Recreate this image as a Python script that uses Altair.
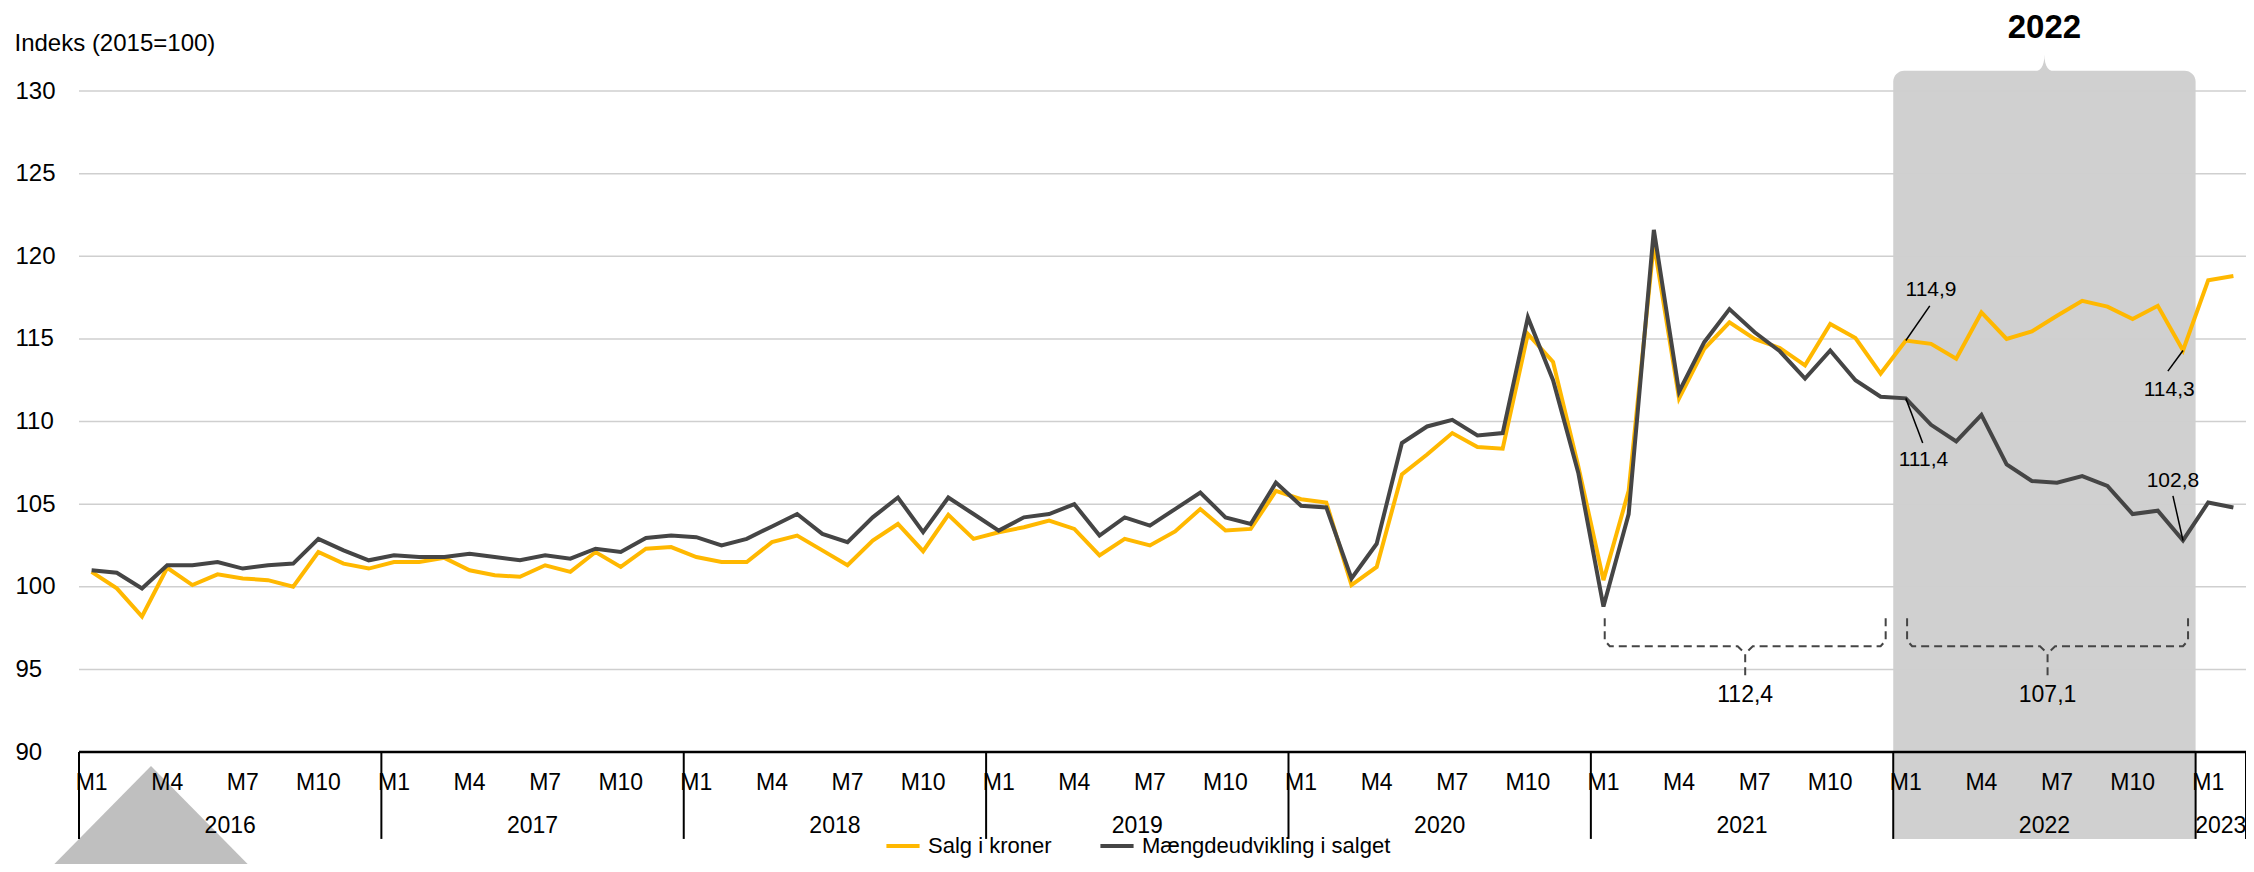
import altair as alt
import pandas as pd

# ---------------- data ----------------
years = [2016, 2017, 2018, 2019, 2020, 2021, 2022, 2023]
months_in_year = [12, 12, 12, 12, 12, 12, 12, 2]
series_names = ["Salg i kroner", "Mængdeudvikling i salget"]

salg_i_kroner = [
    100.9, 99.9, 98.2, 101.15, 100.1, 100.75, 100.5, 100.4, 100.0, 102.1, 101.4, 101.1,
    101.5, 101.5, 101.75, 101.0, 100.7, 100.6, 101.3, 100.9, 102.1, 101.2, 102.3, 102.4,
    101.8, 101.5, 101.5, 102.7, 103.1, 102.2, 101.3, 102.8, 103.8, 102.15, 104.35, 102.9,
    103.3, 103.6, 104.0, 103.5, 101.9, 102.9, 102.5, 103.35, 104.7, 103.4, 103.5, 105.8,
    105.3, 105.1, 100.1, 101.2, 106.8, 108.0, 109.3, 108.45, 108.35, 115.3, 113.6, 107.3,
    100.4, 105.8, 120.8, 111.4, 114.4, 116.0, 115.0, 114.45, 113.4, 115.9, 115.05, 112.9,
    114.9, 114.7, 113.8, 116.6, 115.0, 115.45, 116.4, 117.3, 116.95, 116.2, 117.0, 114.3,
    118.55, 118.8,
]
maengdeudvikling = [
    101.0, 100.85, 99.9, 101.3, 101.3, 101.5, 101.1, 101.3, 101.4, 102.9, 102.2, 101.6,
    101.9, 101.8, 101.8, 102.0, 101.8, 101.6, 101.9, 101.7, 102.3, 102.1, 102.95, 103.1,
    103.0, 102.5, 102.9, 103.65, 104.4, 103.2, 102.7, 104.2, 105.4, 103.3, 105.4, 104.4,
    103.4, 104.2, 104.4, 105.0, 103.1, 104.2, 103.7, 104.7, 105.7, 104.2, 103.8, 106.3,
    104.9, 104.8, 100.5, 102.6, 108.7, 109.7, 110.1, 109.15, 109.3, 116.3, 112.5, 106.9,
    98.8, 104.4, 121.6, 111.8, 114.8, 116.8, 115.4, 114.25, 112.6, 114.3, 112.5, 111.5,
    111.4, 109.8, 108.8, 110.4, 107.4, 106.4, 106.3, 106.7, 106.1, 104.4, 104.6, 102.8,
    105.1, 104.8,
]
y_ticks = [90, 95, 100, 105, 110, 115, 120, 125, 130]
month_tick_numbers = [1, 4, 7, 10]
y_title = "Indeks (2015=100)"
highlight_year = 2022
bracket_years = [2021, 2022]
annotated = [(0, 72), (1, 72), (0, 83), (1, 83)]  # (series, month index)

# ---------------- styles / layout ----------------
YELLOW = "#FFB800"
DARK = "#454545"
FONT = "Liberation Sans"
W, H = 2167, 661
N = len(salg_i_kroner)
XS = alt.Scale(domain=[-0.5, N - 0.5], nice=False, zero=False)
YS = alt.Scale(domain=[90, 130], nice=False, zero=False)
Y_AX = alt.Axis(values=y_ticks, grid=False, domain=False, ticks=False,
                labelAlign="left", labelPadding=64, labelFontSize=24,
                labelColor="#000", labelBaseline="middle",
                title=y_title, titleAngle=0, titleX=-65, titleY=-41,
                titleAlign="left", titleBaseline="alphabetic",
                titleFontWeight="normal", titleFontSize=24, titleColor="#000")


def X(f):
    return alt.X(f, type="quantitative", scale=XS, axis=None)


def Y(f):
    return alt.Y(f, type="quantitative", scale=YS, axis=Y_AX)


# month index / labels
idx, month_of, year_of = [], [], []
k = 0
for yr, n in zip(years, months_in_year):
    for m in range(1, n + 1):
        idx.append(k); month_of.append(m); year_of.append(yr); k += 1

df = pd.DataFrame({
    "i": idx * 2,
    "v": salg_i_kroner + maengdeudvikling,
    "serie": [series_names[0]] * N + [series_names[1]] * N,
})

lines = alt.Chart(df).mark_line(strokeWidth=4).encode(
    x=X("i"), y=Y("v"),
    color=alt.Color("serie:N", scale=alt.Scale(domain=series_names, range=[YELLOW, DARK]),
                    legend=alt.Legend(orient="none", legendX=805, legendY=736,
                                      direction="horizontal", title=None,
                                      labelFontSize=22, labelColor="#000", labelLimit=0,
                                      symbolType="stroke", symbolStrokeWidth=4,
                                      symbolSize=1100, columnPadding=40, labelOffset=6)),
    detail="serie:N",
)

# gridlines
grid = alt.Chart(pd.DataFrame({"v": y_ticks[1:]})).mark_rule(color="#cfcfcf", strokeWidth=1.5).encode(
    y=Y("v"), x=alt.value(0), x2=alt.value(W))

# highlighted year box
start_hl = idx[year_of.index(highlight_year)]
BOX_TOP, AX_BOTTOM = 131.23, 84.74
box = alt.Chart(pd.DataFrame({"x": [start_hl - 0.5], "x2": [start_hl + 11.5],
                              "y": [BOX_TOP], "y2": [AX_BOTTOM]})).mark_rect(
    color="#d0d0d0", cornerRadiusTopLeft=11, cornerRadiusTopRight=11).encode(
    x=X("x"), x2="x2", y=Y("y"), y2="y2")
notch = alt.Chart(pd.DataFrame({"x": [start_hl + 5.5], "y": [131.9]})).mark_point(
    shape="M-1,1 C-0.35,1 0,0.6 0,-0.4 C0,0.6 0.35,1 1,1 Z", filled=True,
    color="#d0d0d0", opacity=1, size=625, strokeWidth=0).encode(x=X("x"), y=Y("y"))
hl_label = alt.Chart(pd.DataFrame({"x": [start_hl + 5.5], "y": [133.2], "t": [str(highlight_year)]})).mark_text(
    fontSize=33, fontWeight="bold", color="#000", baseline="alphabetic").encode(
    x=X("x"), y=Y("y"), text="t:N")

# decorative triangle
tri = alt.Chart(pd.DataFrame({"a": [0]})).mark_point(
    shape="M0,-0.507 L1,0.507 L-1,0.507 Z", filled=True, color="#bfbfbf",
    opacity=1, size=43681, strokeWidth=0).encode(x=alt.value(72), y=alt.value(728))

# point annotations
series_vals = [salg_i_kroner, maengdeudvikling]
lab_pos = [(73.0, 117.95), (72.7, 107.66), (82.45, 111.9), (82.6, 106.4)]
end_pos = [(72.95, 117.0), (72.67, 108.7), (82.4, 113.05), (82.6, 105.5)]
ann = pd.DataFrame({
    "i": [a[1] for a in annotated],
    "v": [series_vals[s][m] for s, m in annotated],
    "li": [p[0] for p in lab_pos], "lv": [p[1] for p in lab_pos],
    "ei": [p[0] for p in end_pos], "ev": [p[1] for p in end_pos],
})
ann["t"] = ann["v"].map(lambda v: f"{v:.1f}".replace(".", ","))
ann_rule = alt.Chart(ann).mark_rule(color="#000", strokeWidth=1.5).encode(
    x=X("i"), y=Y("v"), x2="ei", y2="ev")
ann_text = alt.Chart(ann).mark_text(fontSize=21, color="#000", baseline="middle").encode(
    x=X("li"), y=Y("lv"), text="t:N")

# brackets (annual averages of Mængdeudvikling)
TOP, HL, BOT, TXT = 98.1, 96.4, 94.6, 93.45
rows, btxt = [], []
for yr in bracket_years:
    s = idx[year_of.index(yr)]
    L, R = s + 0.05, s + 11.2
    C = (L + R) / 2
    left = [(L, TOP), (L, HL + 0.35), (L + 0.2, HL), (C - 0.3, HL), (C, HL - 0.45), (C, BOT)]
    right = [(R, TOP), (R, HL + 0.35), (R - 0.2, HL), (C + 0.3, HL), (C, HL - 0.45)]
    for part, pts in (("l", left), ("r", right)):
        for o, (px, py) in enumerate(pts):
            rows.append({"id": f"{yr}{part}", "o": o, "x": px, "y": py})
    vals = [maengdeudvikling[j] for j in idx if year_of[j] == yr]
    btxt.append({"x": C, "y": TXT, "t": f"{sum(vals)/len(vals):.1f}".replace(".", ",")})
brackets = alt.Chart(pd.DataFrame(rows)).mark_line(color=DARK, strokeWidth=2, strokeDash=[8, 5]).encode(
    x=X("x"), y=Y("y"), detail="id:N", order="o:Q")
bracket_text = alt.Chart(pd.DataFrame(btxt)).mark_text(fontSize=23, color="#000", baseline="middle").encode(
    x=X("x"), y=Y("y"), text="t:N")

# x axis drawn manually (two levels)
baseline = alt.Chart(pd.DataFrame({"x": [-0.5], "x2": [N - 0.5], "y": [90]})).mark_rule(
    color="#000", strokeWidth=2.5).encode(x=X("x"), x2="x2", y=Y("y"))
bounds = [idx[year_of.index(yr)] - 0.5 for yr in years] + [N - 0.5]
seps = alt.Chart(pd.DataFrame({"x": bounds, "y": [90] * len(bounds), "y2": [AX_BOTTOM] * len(bounds)})).mark_rule(
    color="#000", strokeWidth=2).encode(x=X("x"), y=Y("y"), y2="y2")
mt = pd.DataFrame({"x": [j for j in idx if month_of[j] in month_tick_numbers],
                   "t": [f"M{month_of[j]}" for j in idx if month_of[j] in month_tick_numbers]})
mt["y"] = 88.12
month_text = alt.Chart(mt).mark_text(fontSize=23, color="#000", baseline="middle").encode(
    x=X("x"), y=Y("y"), text="t:N")
yt = pd.DataFrame({"x": [(bounds[q] + bounds[q + 1]) / 2 for q in range(len(years))],
                   "t": [str(yr) for yr in years]})
yt["y"] = 85.52
year_text = alt.Chart(yt).mark_text(fontSize=23, color="#000", baseline="middle").encode(
    x=X("x"), y=Y("y"), text="t:N")

chart = alt.layer(
    tri, box, notch, hl_label, grid, lines, ann_rule, ann_text, brackets, bracket_text,
    baseline, seps, month_text, year_text,
).properties(
    width=W, height=H,
    padding={"left": 71, "top": 83, "right": 0, "bottom": 112},
    autosize=alt.AutoSizeParams(type="none"),
).configure(font=FONT).configure_view(stroke=None)

chart.save("out.html", embed_options={"renderer": "svg", "actions": False})
